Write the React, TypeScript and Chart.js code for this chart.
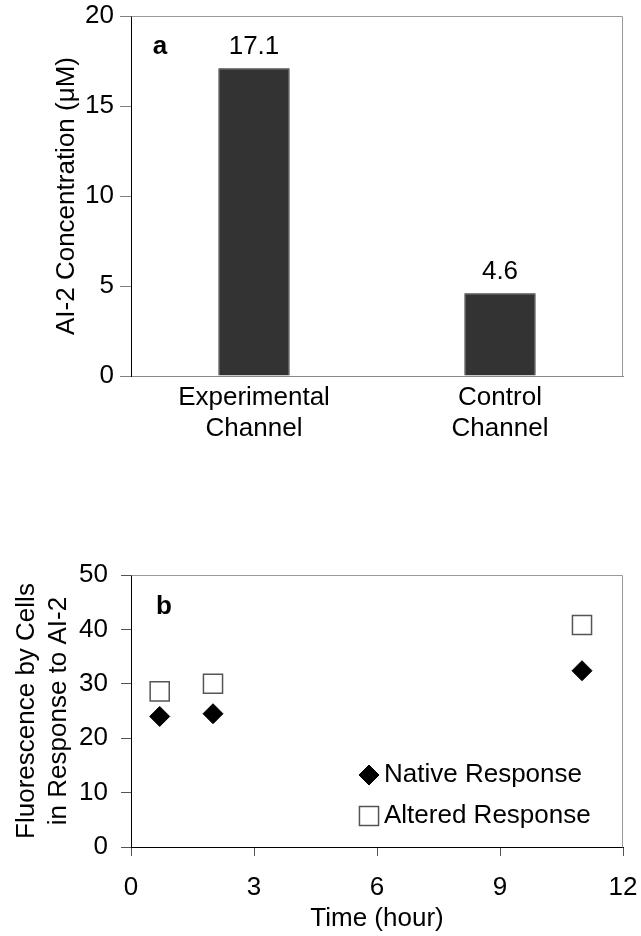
import React, { useEffect, useRef } from 'react';
import { Chart, registerables } from 'chart.js';
import { drawPoint } from 'chart.js/helpers';

Chart.register(...registerables);

const FONT = '"Liberation Sans", Arial, Helvetica, sans-serif';

// Panel a: AI-2 concentration measured in each channel
const channelLabels = [['Experimental', 'Channel'], ['Control', 'Channel']];
const concentrationValues = [17.1, 4.6];
const concentrationTicks = [0, 5, 10, 15, 20];

// Panel b: reporter-cell fluorescence over time
const timeHours = [0.7, 2, 11];
const nativeResponse = [24, 24.5, 32.4];
const alteredResponse = [28.6, 30, 40.8];
const timeTicks = [0, 3, 6, 9, 12];
const fluorescenceTicks = [0, 10, 20, 30, 40, 50];

const font = (size: number, weight = 'normal', lineHeight = 1.2) => ({
  family: FONT,
  size,
  weight,
  lineHeight,
});

// Light frame on the top and right edges of the plot area
const framePlugin = {
  id: 'frame',
  afterDraw(chart: any) {
    const { ctx, chartArea } = chart;
    const l = Math.round(chartArea.left) + 0.5;
    const t = Math.round(chartArea.top) + 0.5;
    const r = Math.round(chartArea.right) - 0.5;
    const b = Math.round(chartArea.bottom) + 0.5;
    ctx.save();
    ctx.strokeStyle = '#9a9a9a';
    ctx.lineWidth = 1;
    ctx.beginPath();
    ctx.moveTo(l, t);
    ctx.lineTo(r, t);
    ctx.lineTo(r, b);
    ctx.stroke();
    ctx.restore();
  },
};

const panelLetter = (letter: string, dx: number, dy: number) => ({
  id: 'panelLetter',
  afterDraw(chart: any) {
    const { ctx, chartArea } = chart;
    ctx.save();
    ctx.font = `bold 26px ${FONT}`;
    ctx.fillStyle = '#000';
    ctx.textAlign = 'center';
    ctx.textBaseline = 'middle';
    ctx.fillText(letter, chartArea.left + dx, chartArea.top + dy);
    ctx.restore();
  },
});

// Value written above each bar
const barValuePlugin = {
  id: 'barValues',
  afterDatasetsDraw(chart: any) {
    const { ctx } = chart;
    const ds = chart.data.datasets[0];
    const meta = chart.getDatasetMeta(0);
    ctx.save();
    ctx.font = `26px ${FONT}`;
    ctx.fillStyle = '#000';
    ctx.textAlign = 'center';
    ctx.textBaseline = 'middle';
    meta.data.forEach((bar: any, i: number) => {
      ctx.fillText(String(ds.data[i]), bar.x, bar.y - 21);
    });
    ctx.restore();
  },
};

// Legend drawn inside the lower right of the plot area
const insideLegendPlugin = {
  id: 'insideLegend',
  afterDraw(chart: any) {
    const { ctx, chartArea } = chart;
    chart.data.datasets.forEach((ds: any, i: number) => {
      const y = chartArea.top + 200 + i * 41;
      const x = chartArea.left + 238;
      ctx.save();
      ctx.fillStyle = ds.pointBackgroundColor;
      ctx.strokeStyle = ds.pointBorderColor;
      ctx.lineWidth = ds.pointBorderWidth;
      drawPoint(
        ctx,
        {
          pointStyle: ds.pointStyle,
          radius: ds.pointRadius,
          rotation: 0,
          borderWidth: ds.pointBorderWidth,
        } as any,
        x,
        y
      );
      ctx.fillStyle = '#000';
      ctx.font = `26px ${FONT}`;
      ctx.textAlign = 'left';
      ctx.textBaseline = 'middle';
      ctx.fillText(ds.label, chartArea.left + 253, y);
      ctx.restore();
    });
  },
};

const W = 641;
const TOP_H = 440;
const BOTTOM_TOP = 540;
const BOTTOM_H = 396;

export default function App() {
  const topRef = useRef<HTMLCanvasElement>(null);
  const bottomRef = useRef<HTMLCanvasElement>(null);

  useEffect(() => {
    Chart.defaults.font.family = FONT;
    Chart.defaults.color = '#000';

    const barChart = new Chart(topRef.current as HTMLCanvasElement, {
      type: 'bar',
      data: {
        labels: channelLabels as any,
        datasets: [
          {
            label: 'AI-2',
            data: concentrationValues,
            backgroundColor: '#333333',
            borderColor: '#1a1a1a',
            borderWidth: 1,
            barPercentage: 0.29,
            categoryPercentage: 1,
          },
        ],
      },
      options: {
        animation: false,
        responsive: false,
        devicePixelRatio: 1,
        events: [],
        layout: { padding: { left: 0, right: 18, top: 16, bottom: 0 } },
        plugins: { legend: { display: false }, tooltip: { enabled: false } },
        scales: {
          x: {
            type: 'category',
            grid: { display: false, drawOnChartArea: false, drawTicks: false },
            border: { display: true, color: '#8a8a8a', width: 1 },
            ticks: {
              font: font(26, 'normal', 1.2),
              color: '#000',
              padding: 6,
              maxRotation: 0,
              autoSkip: false,
            },
            afterFit(scale: any) {
              scale.height = 64;
              scale.paddingLeft = 0;
              scale.paddingRight = 0;
            },
          },
          y: {
            type: 'linear',
            min: concentrationTicks[0],
            max: concentrationTicks[concentrationTicks.length - 1],
            grid: {
              display: true,
              drawOnChartArea: false,
              drawTicks: true,
              tickLength: 11,
              tickColor: '#808080',
            },
            border: { display: true, color: '#000', width: 1 },
            ticks: {
              stepSize: concentrationTicks[1] - concentrationTicks[0],
              font: font(26),
              color: '#000',
              padding: 6,
            },
            title: {
              display: true,
              text: 'AI-2 Concentration (\u03bcM)',
              font: font(26),
              color: '#000',
              padding: { top: 51, bottom: 0 },
            },
            afterFit(scale: any) {
              scale.width = 131;
              scale.paddingTop = 0;
              scale.paddingBottom = 0;
            },
          },
        },
      },
      plugins: [framePlugin, panelLetter('a', 29, 31), barValuePlugin],
    } as any);

    const scatterChart = new Chart(bottomRef.current as HTMLCanvasElement, {
      type: 'scatter',
      data: {
        datasets: [
          {
            label: 'Native Response',
            data: timeHours.map((t, i) => ({ x: t, y: nativeResponse[i] })),
            pointStyle: 'rectRot',
            pointRadius: 10,
            pointBackgroundColor: '#000',
            pointBorderColor: '#000',
            pointBorderWidth: 1,
            backgroundColor: '#000',
            borderColor: '#000',
            showLine: false,
          },
          {
            label: 'Altered Response',
            data: timeHours.map((t, i) => ({ x: t, y: alteredResponse[i] })),
            pointStyle: 'rect',
            pointRadius: 13.5,
            pointBackgroundColor: '#fff',
            pointBorderColor: '#555',
            pointBorderWidth: 1.5,
            backgroundColor: '#fff',
            borderColor: '#555',
            showLine: false,
          },
        ],
      },
      options: {
        animation: false,
        responsive: false,
        devicePixelRatio: 1,
        events: [],
        layout: { padding: { left: 0, right: 18, top: 35, bottom: 0 } },
        plugins: { legend: { display: false }, tooltip: { enabled: false } },
        scales: {
          x: {
            type: 'linear',
            min: timeTicks[0],
            max: timeTicks[timeTicks.length - 1],
            grid: {
              display: true,
              drawOnChartArea: false,
              drawTicks: true,
              tickLength: 9,
              tickColor: '#555',
            },
            border: { display: true, color: '#000', width: 1 },
            ticks: {
              stepSize: timeTicks[1] - timeTicks[0],
              font: font(26),
              color: '#000',
              padding: 16,
              maxRotation: 0,
            },
            title: {
              display: true,
              text: 'Time (hour)',
              font: font(26),
              color: '#000',
              padding: { top: 0, bottom: 2 },
            },
            afterFit(scale: any) {
              scale.height = 89;
              scale.paddingLeft = 0;
              scale.paddingRight = 0;
            },
          },
          y: {
            type: 'linear',
            min: fluorescenceTicks[0],
            max: fluorescenceTicks[fluorescenceTicks.length - 1],
            grid: {
              display: true,
              drawOnChartArea: false,
              drawTicks: true,
              tickLength: 10,
              tickColor: '#555',
            },
            border: { display: true, color: '#000', width: 1 },
            ticks: {
              stepSize: fluorescenceTicks[1] - fluorescenceTicks[0],
              font: font(26),
              color: '#000',
              padding: 13,
            },
            title: {
              display: true,
              text: ['Fluorescence by Cells', 'in Response to AI-2'],
              font: font(26, 'normal', 1.23),
              color: '#000',
              padding: { top: 11, bottom: 0 },
            },
            afterFit(scale: any) {
              scale.width = 131;
              scale.paddingTop = 0;
              scale.paddingBottom = 0;
            },
          },
        },
      },
      plugins: [framePlugin, panelLetter('b', 33, 32), insideLegendPlugin],
    } as any);

    return () => {
      barChart.destroy();
      scatterChart.destroy();
    };
  }, []);

  return (
    <div>
      <canvas
        ref={topRef}
        width={W}
        height={TOP_H}
        style={{ position: 'absolute', left: 0, top: 0, width: W, height: TOP_H }}
      />
      <canvas
        ref={bottomRef}
        width={W}
        height={BOTTOM_H}
        style={{ position: 'absolute', left: 0, top: BOTTOM_TOP, width: W, height: BOTTOM_H }}
      />
    </div>
  );
}
